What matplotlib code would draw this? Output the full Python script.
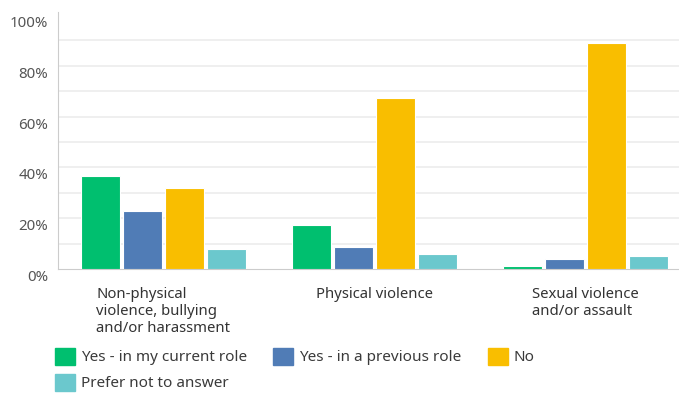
import numpy as np
import matplotlib.pyplot as plt
from matplotlib.patches import Patch
from matplotlib.transforms import ScaledTranslation

plt.rcParams['font.family'] = ['Noto Sans', 'DejaVu Sans']

# survey responses (% of respondents)
categories = ["Non-physical\nviolence, bullying\nand/or harassment",
              "Physical violence",
              "Sexual violence\nand/or assault"]
answers = ["Yes - in my current role", "Yes - in a previous role", "No",
           "Prefer not to answer"]
current_role = [36.7, 17.2, 1.2]
previous_role = [22.8, 8.7, 3.8]
no_answer = [31.8, 67.2, 88.9]
prefer_not = [7.8, 5.8, 5.2]
colors = ["#00BF6F", "#507CB6", "#F9BE00", "#6BC8CD"]

series = [current_role, previous_role, no_answer, prefer_not]

fig = plt.figure(figsize=(6.79, 3.94), dpi=100)
ax = fig.add_axes([58 / 679, 125 / 394, 621 / 679, 254 / 394])

x = np.arange(len(categories))
pitch = 0.199
width = 0.185
for i, (vals, col, name) in enumerate(zip(series, colors, answers)):
    ax.bar(x + (i - 1.5) * pitch, vals, width, color=col, edgecolor="white",
           linewidth=0.8, label=name, zorder=3)

ax.set_xlim(-0.5, -0.5 + 621 / 211)
ax.set_ylim(0, 100)

# gridlines every 10%, labels every 20%
for g in range(10, 100, 10):
    ax.axhline(g, color="#ececec", linewidth=1.2, zorder=1)
ax.set_yticks(range(0, 101, 20))
ax.set_yticklabels([f"{v}%" for v in range(0, 101, 20)], color="#555555", fontsize=10.8)
ax.tick_params(axis="y", length=0, pad=7)
offset = ScaledTranslation(0, -0.065, fig.dpi_scale_trans)
for lab in ax.get_yticklabels():
    lab.set_transform(lab.get_transform() + offset)

ax.set_xticks(x)
ax.set_xticklabels(categories, fontsize=10.7, color="#333333", ha="center",
                   multialignment="left", va="top")
ax.tick_params(axis="x", length=0, pad=13)

for side in ["top", "right"]:
    ax.spines[side].set_visible(False)
ax.spines["left"].set_color("#cccccc")
ax.spines["bottom"].set_color("#cccccc")
ax.spines["left"].set_bounds(0, 101)

handles = [Patch(facecolor=c, edgecolor=c) for c in colors]
order = [0, 3, 1, 2]
fig.legend([handles[i] for i in order], [answers[i] for i in order],
           ncol=3, loc="upper left", bbox_to_anchor=(55 / 679, 1 - 348 / 394),
           frameon=False, fontsize=11, labelcolor="#3a3a3a",
           handlelength=1.31, handleheight=1.31, handletextpad=0.4,
           labelspacing=0.55, columnspacing=1.7, borderaxespad=0, borderpad=0)

fig.savefig("out.png", dpi=100)
